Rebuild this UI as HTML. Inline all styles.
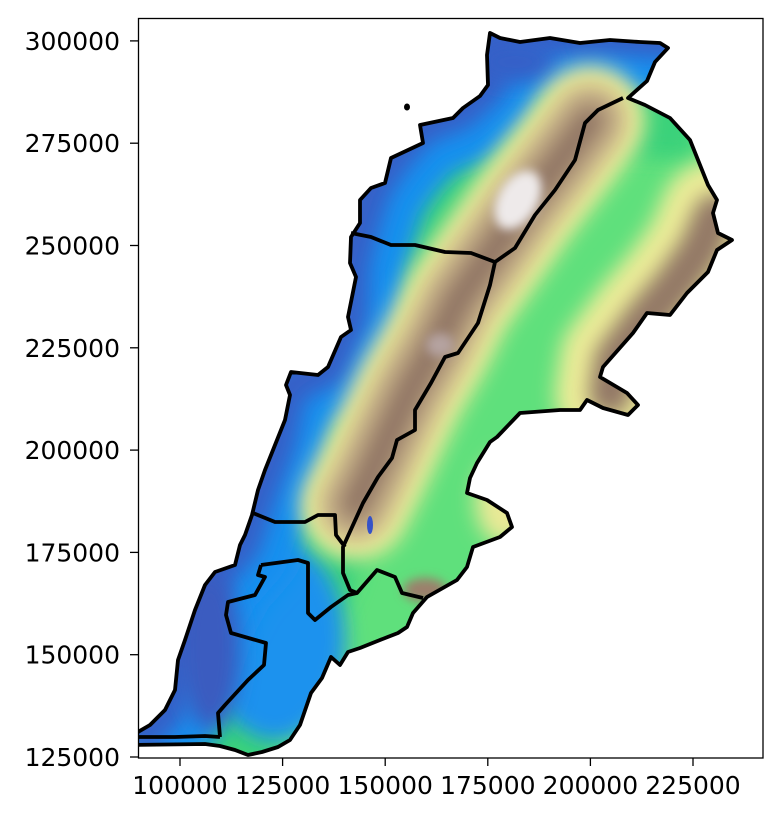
<!DOCTYPE html>
<html><head><meta charset="utf-8">
<style>
html,body{margin:0;padding:0;background:#fff;}
svg{display:block;font-family:"DejaVu Sans","Liberation Sans",sans-serif;}
</style></head>
<body>
<svg id="chart" width="780" height="822" viewBox="0 0 780 822" xmlns="http://www.w3.org/2000/svg">
<defs>
  <filter id="blur" filterUnits="userSpaceOnUse" x="0" y="0" width="780" height="822"><feGaussianBlur stdDeviation="10"/></filter>
  <filter id="blurS" filterUnits="userSpaceOnUse" x="0" y="0" width="780" height="822"><feGaussianBlur stdDeviation="5"/></filter>
  <clipPath id="landClip"><path id="landClipPath" d=""/></clipPath>
  <clipPath id="axClip"><rect x="138" y="18" width="625" height="740"/></clipPath>
</defs>
<g clip-path="url(#axClip)">
<g id="terrain" clip-path="url(#landClip)">
  <rect x="100" y="0" width="680" height="800" fill="#5fe07c"/>
  <polyline id="coastGreen" fill="none" stroke="#3bd27a" stroke-width="240" stroke-linejoin="round" filter="url(#blur)"/>
  <ellipse cx="275" cy="640" rx="70" ry="100" fill="#1a92ee" filter="url(#blur)"/>
  <polyline id="coastBlue" fill="none" stroke="#1590ef" stroke-width="115" stroke-linejoin="round" filter="url(#blur)"/>
  <polyline id="coastDark" fill="none" stroke="#3560c8" stroke-width="40" stroke-linejoin="round" filter="url(#blur)"/>
  <ellipse cx="210" cy="650" rx="30" ry="80" fill="#3a5cc0" filter="url(#blur)"/>
  <ellipse cx="515" cy="62" rx="40" ry="22" fill="#3560c8" filter="url(#blur)"/>
  <polyline id="mlYellow" fill="none" stroke="#ecec98" stroke-width="110" stroke-linecap="round" stroke-linejoin="round" filter="url(#blur)"/>
  <polyline id="mlTan" fill="none" stroke="#c4ae86" stroke-width="72" stroke-linecap="round" stroke-linejoin="round" filter="url(#blur)"/>
  <polyline id="mlBrown" fill="none" stroke="#917665" stroke-width="30" stroke-linecap="round" stroke-linejoin="round" filter="url(#blur)"/>
  <ellipse cx="518" cy="200" rx="20" ry="32" transform="rotate(30 518 200)" fill="#eeeaea" filter="url(#blurS)"/>
  <ellipse cx="440" cy="345" rx="14" ry="12" fill="#b5a3a0" filter="url(#blurS)"/>
  <polyline id="alYellow" fill="none" stroke="#ecec98" stroke-width="110" stroke-linecap="round" stroke-linejoin="round" filter="url(#blur)"/>
  <polyline id="alBrown" fill="none" stroke="#937866" stroke-width="42" stroke-linecap="round" stroke-linejoin="round" filter="url(#blur)"/>
  <ellipse cx="505" cy="500" rx="30" ry="45" fill="#e9e996" filter="url(#blur)"/>
  <ellipse cx="425" cy="590" rx="22" ry="12" fill="#9b806c" filter="url(#blurS)"/>
  <ellipse cx="370" cy="525" rx="3" ry="9" fill="#3552c8"/>
</g>
  <path id="outline" fill="none" stroke="#000" stroke-width="3.8" stroke-linejoin="round"/>
  <g id="borders" fill="none" stroke="#000" stroke-width="3.8" stroke-linejoin="round"></g>
  <ellipse cx="407" cy="107" rx="3" ry="3.5" fill="#000"/>
</g>
<rect x="138.5" y="18.5" width="624.5" height="739.5" fill="none" stroke="#000" stroke-width="1.3"/>
<g id="xaxis"></g>
<g id="yaxis"></g>
</svg>
<script>
const xTicks = [100000, 125000, 150000, 175000, 200000, 225000];
const yTicks = [125000, 150000, 175000, 200000, 225000, 250000, 275000, 300000];
function xScale(v){ return 180 + (v-100000)*102.6/25000; }
function yScale(v){ return 757 - (v-125000)*102.3/25000; }

const land = [[490,33],[487,55],[488,85],[480,96],[463,108],[453,118],[420,125],[423,143],[391,158],[385,183],[371,188],[360,200],[360,223],[351,237],[350,263],[356,277],[348,317],[351,330],[341,337],[328,367],[318,375],[291,372],[286,385],[290,395],[285,420],[275,445],[265,470],[258,490],[252,515],[245,535],[240,545],[235,565],[215,572],[205,585],[195,610],[185,640],[178,660],[175,690],[165,710],[150,725],[138,732],[130,745],[205,744],[220,746],[235,750],[248,755],[262,752],[278,747],[290,740],[300,725],[311,693],[322,678],[331,657],[340,665],[348,652],[360,648],[380,640],[398,633],[407,627],[413,613],[427,597],[457,580],[467,567],[473,547],[500,537],[512,527],[507,513],[487,500],[467,493],[470,478],[477,463],[490,442],[497,437],[520,413],[560,410],[580,410],[587,400],[603,408],[628,415],[638,405],[627,393],[600,377],[603,367],[633,333],[647,313],[670,315],[687,293],[708,272],[717,250],[732,240],[718,233],[713,213],[717,200],[708,185],[700,165],[690,140],[670,118],[645,105],[628,98],[647,81],[655,62],[668,48],[660,43],[640,42],[610,40],[580,43],[550,38],[520,42],[500,38]];
const coastLine = [[700,40],[600,35],[490,40],[487,85],[460,110],[420,125],[391,158],[371,188],[360,223],[350,263],[348,317],[328,367],[288,385],[275,445],[258,490],[240,545],[215,572],[195,610],[178,660],[165,710],[130,745]];
const mlRidge = [[590,120],[560,160],[525,205],[490,255],[458,300],[436,345],[410,390],[390,432],[370,475],[355,505]];
const alRidge = [[715,215],[700,250],[675,285],[645,320],[615,360],[610,395]];
const borderLines = [
 [[623,98],[598,110],[585,123],[575,160],[555,190],[535,215],[515,248],[495,262],[490,285],[478,323],[458,353],[445,357],[431,383],[415,410],[415,430],[397,440],[392,458],[378,477],[363,503],[343,547],[343,573],[350,590],[357,593],[377,570],[395,577],[402,593],[423,598]],
 [[351,233],[371,237],[391,245],[415,245],[445,252],[471,253],[495,262]],
 [[253,513],[275,522],[305,522],[318,515],[335,515],[336,535],[345,547]],
 [[261,565],[298,560],[308,563],[308,613],[315,620],[331,607],[348,595],[357,593]],
 [[261,565],[258,575],[265,577],[255,595],[228,602],[226,615],[231,633],[266,643],[264,665],[248,680],[225,705],[218,713],[220,737]],
 [[138,737],[175,737],[205,736],[220,737]]
];

function pts(a){ return a.map(p=>p.join(',')).join(' '); }
const d = 'M' + land.map(p=>p.join(',')).join(' L') + ' Z';
document.getElementById('landClipPath').setAttribute('d', d);
document.getElementById('outline').setAttribute('d', d);
['coastGreen','coastBlue','coastDark'].forEach(id=>document.getElementById(id).setAttribute('points', pts(coastLine)));
['mlYellow','mlTan','mlBrown'].forEach(id=>document.getElementById(id).setAttribute('points', pts(mlRidge)));
['alYellow','alBrown'].forEach(id=>document.getElementById(id).setAttribute('points', pts(alRidge)));
const NS = 'http://www.w3.org/2000/svg';
const bg = document.getElementById('borders');
borderLines.forEach(b=>{
  const pl = document.createElementNS(NS,'polyline');
  pl.setAttribute('points', pts(b));
  
  
  bg.appendChild(pl);
});
const xa = document.getElementById('xaxis');
xTicks.forEach(v=>{
  const x = xScale(v);
  const t = document.createElementNS(NS,'line');
  t.setAttribute('x1',x); t.setAttribute('x2',x); t.setAttribute('y1',758); t.setAttribute('y2',766);
  t.setAttribute('stroke','#000'); t.setAttribute('stroke-width','1.3');
  
  
  xa.appendChild(t);
  const l = document.createElementNS(NS,'text');
  l.setAttribute('x',x); l.setAttribute('y',794); l.setAttribute('text-anchor','middle');
  l.setAttribute('font-size','25'); l.setAttribute('fill','#000');
  l.textContent = String(v);
  
  
  xa.appendChild(l);
});
const ya = document.getElementById('yaxis');
yTicks.forEach(v=>{
  const y = yScale(v);
  const t = document.createElementNS(NS,'line');
  t.setAttribute('x1',130); t.setAttribute('x2',138.5); t.setAttribute('y1',y); t.setAttribute('y2',y);
  t.setAttribute('stroke','#000'); t.setAttribute('stroke-width','1.3');
  
  
  ya.appendChild(t);
  const l = document.createElementNS(NS,'text');
  l.setAttribute('x',120); l.setAttribute('y',y+9); l.setAttribute('text-anchor','end');
  l.setAttribute('font-size','25'); l.setAttribute('fill','#000');
  l.textContent = String(v);
  
  
  ya.appendChild(l);
});
</script>
</body></html>
